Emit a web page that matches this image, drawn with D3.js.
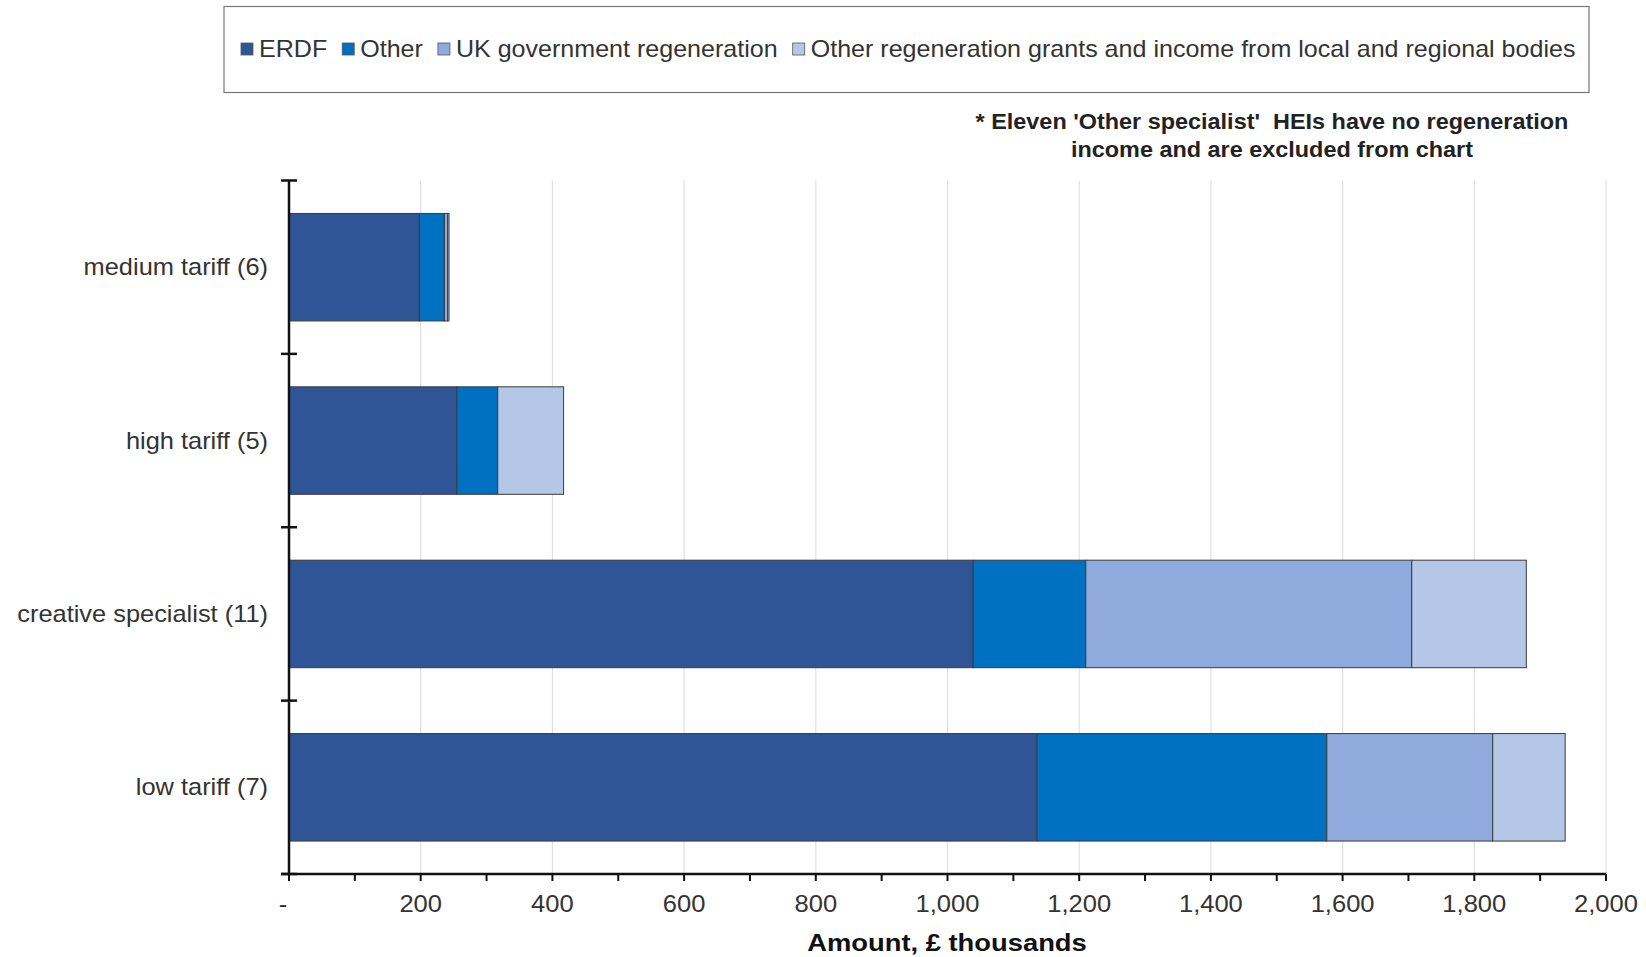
<!DOCTYPE html>
<html><head><meta charset="utf-8">
<script src="https://cdn.jsdelivr.net/npm/d3@7"></script>
<style>body{margin:0;background:#fff}svg{display:block}text{font-family:"Liberation Sans",Arial,sans-serif}</style>
</head><body><svg id="c" width="1646" height="957"></svg>
<script>
const categories = ["medium tariff (6)", "high tariff (5)", "creative specialist (11)", "low tariff (7)"];
const seriesNames = ["ERDF", "Other", "UK government regeneration", "Other regeneration grants and income from local and regional bodies"];
const erdf = [198, 255, 1039, 1136];
const other = [38, 62, 171, 440];
const ukGov = [5, 0, 495, 252];
const otherRegen = [2, 100, 174, 110];
const xTicks = [0, 200, 400, 600, 800, 1000, 1200, 1400, 1600, 1800, 2000];
const xTickLabels = ["-", "200", "400", "600", "800", "1,000", "1,200", "1,400", "1,600", "1,800", "2,000"];
const colors = ["#2F5597", "#0070C0", "#8FAADC", "#B4C7E7"];
const note = ["* Eleven 'Other specialist'  HEIs have no regeneration", "income and are excluded from chart"];
const xTitle = "Amount, £ thousands";

const svg = d3.select("#c");
const L = 289, R = 1606, T = 180.5, B = 874;
const x = d3.scaleLinear().domain([0, 2000]).range([L, R]);
const y = d3.scaleBand().domain(categories).range([T, B]).paddingInner(0.38).paddingOuter(0.19);

// horizontal stretch helper (reference text is wider than Liberation Sans)
function stretch(sel, f) {
  sel.attr("transform", function() {
    const ax = +d3.select(this).attr("x");
    return `translate(${ax},0) scale(${f},1) translate(${-ax},0)`;
  });
}

// gridlines
svg.append("g").selectAll("line").data(xTicks.slice(1)).join("line")
  .attr("x1", d => x(d)).attr("x2", d => x(d)).attr("y1", T).attr("y2", B)
  .attr("stroke", "#e0e0e0").attr("stroke-width", 1.2);

// stacked bars
const rows = categories.map((c, i) => ({cat: c, s0: erdf[i], s1: other[i], s2: ukGov[i], s3: otherRegen[i]}));
const stack = d3.stack().keys(["s0", "s1", "s2", "s3"])(rows);
svg.append("g").selectAll("g").data(stack).join("g")
  .attr("fill", (d, i) => colors[i])
  .selectAll("rect").data(d => d.filter(p => p[1] - p[0] > 0)).join("rect")
  .attr("x", d => x(d[0])).attr("width", d => x(d[1]) - x(d[0]))
  .attr("y", d => y(d.data.cat)).attr("height", y.bandwidth())
  .attr("stroke", "#3a3a3a").attr("stroke-width", 1);

// x axis
const minor = d3.range(0, 2001, 100);
const gx = svg.append("g");
gx.selectAll("line.t").data(minor).join("line").attr("class", "t")
  .attr("x1", d => x(d)).attr("x2", d => x(d)).attr("y1", B).attr("y2", B + 7)
  .attr("stroke", "#111").attr("stroke-width", 2);
gx.append("line").attr("x1", L - 8).attr("x2", R).attr("y1", B).attr("y2", B).attr("stroke", "#111").attr("stroke-width", 2.5);
gx.selectAll("text").data(xTicks).join("text")
  .attr("x", (d, i) => i === 0 ? x(d) - 6 : x(d)).attr("y", 912)
  .attr("text-anchor", "middle").attr("font-size", 23).attr("fill", "#333")
  .text((d, i) => xTickLabels[i]).call(stretch, 1.11);
svg.append("text").attr("x", 947).attr("y", 951).attr("text-anchor", "middle")
  .attr("font-size", 24).attr("font-weight", "bold").attr("fill", "#111").text(xTitle).call(stretch, 1.14);

// y axis
const gy = svg.append("g");
gy.append("line").attr("x1", L).attr("x2", L).attr("y1", T).attr("y2", B).attr("stroke", "#111").attr("stroke-width", 2.5);
const bounds = categories.map(c => y(c) - y.step() * y.paddingInner() / 2).concat([B]);
gy.selectAll("line.b").data(bounds).join("line").attr("class", "b")
  .attr("x1", L - 8).attr("x2", L + 8).attr("y1", d => d).attr("y2", d => d)
  .attr("stroke", "#111").attr("stroke-width", 2.5);
gy.selectAll("text").data(categories).join("text")
  .attr("x", 268).attr("y", d => y(d) + y.bandwidth() / 2 + 8)
  .attr("text-anchor", "end").attr("font-size", 23).attr("fill", "#333").text(d => d)
  .call(stretch, 1.105);

// legend
svg.append("rect").attr("x", 224).attr("y", 6.5).attr("width", 1365).attr("height", 86)
  .attr("fill", "#fff").attr("stroke", "#777").attr("stroke-width", 1.2);
const lg = svg.append("g");
let lx = 241;
const lf = 1.09;
lg.selectAll("g").data(seriesNames).join("g").each(function(d, i) {
  const g = d3.select(this);
  g.append("rect").attr("x", lx).attr("y", 43).attr("width", 12).attr("height", 12)
    .attr("fill", colors[i]).attr("stroke", "#555").attr("stroke-width", 0.8);
  const t = g.append("text").attr("x", lx + 18).attr("y", 57).attr("font-size", 23).attr("fill", "#333").text(d)
    .call(stretch, lf);
  lx += 18 + t.node().getComputedTextLength() * lf + 15;
});

// note
svg.append("g").selectAll("text").data(note).join("text")
  .attr("x", 1272).attr("y", (d, i) => 129 + i * 28).attr("text-anchor", "middle")
  .attr("font-size", 21.5).attr("font-weight", "bold").attr("fill", "#222")
  .style("white-space", "pre").text(d => d)
  .call(stretch, 1.09);
</script></body></html>
